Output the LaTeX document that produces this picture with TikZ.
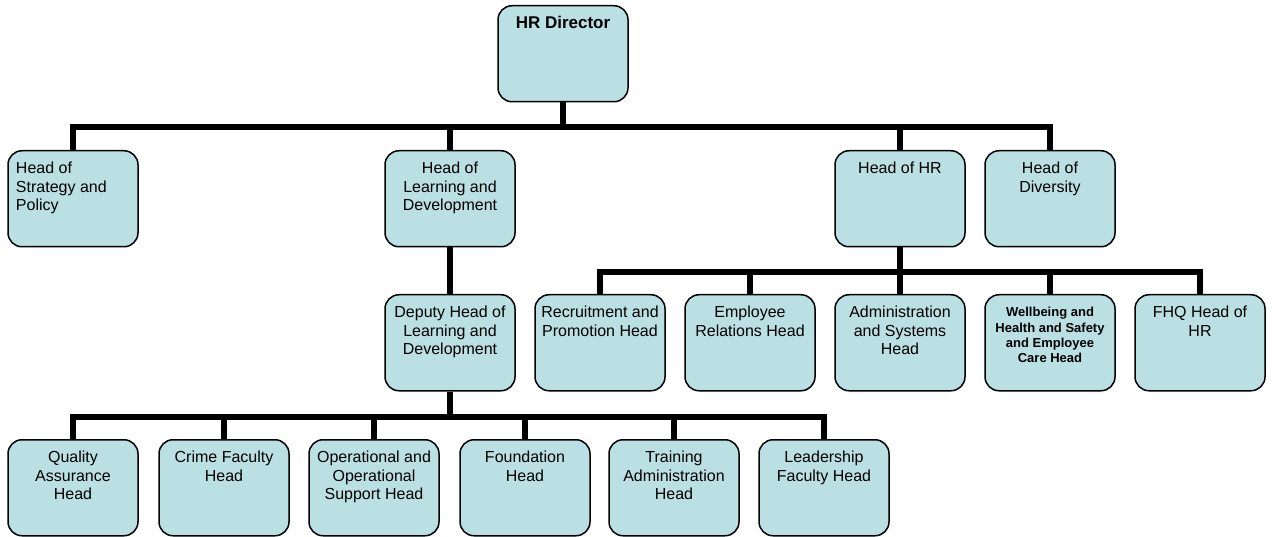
\documentclass[tikz,border=0pt]{standalone}
\usepackage{fontspec}
\setmainfont{Liberation Sans}
\definecolor{boxfill}{RGB}{187,224,227}
\newcommand{\bt}[1]{\parbox[b][96pt][t]{124pt}{\centering\rule{0pt}{23pt}#1\par}}
\newcommand{\btl}[1]{\parbox[b][96pt][t]{114pt}{\raggedright\rule{0pt}{23pt}#1\par}}
\newcommand{\btb}[1]{\parbox[b][96pt][t]{124pt}{\centering\fontsize{13}{15.3}\selectfont\bfseries\rule{0pt}{22pt}#1\par}}
\begin{document}
\begin{tikzpicture}[x=1pt,y=-1pt,
  orgbox/.style={draw=black, line width=1.5pt, fill=boxfill, rounded corners=14pt,
    minimum width=130pt, minimum height=96pt, inner sep=0pt, anchor=north,
    font=\fontsize{16}{18.5}\selectfont},
  link/.style={line width=5.5pt}]
\useasboundingbox (0,0) rectangle (1277,537);
% level 0
\node[orgbox] (dir) at (563,5) {\parbox[b][96pt][t]{124pt}{\centering\fontsize{17}{20}\selectfont\bfseries\rule{0pt}{23pt}HR Director\par}};
% level 1
\node[orgbox] (strat) at (73,150) {\btl{Head of\\Strategy and\\Policy}};
\node[orgbox] (ld) at (450,150) {\bt{Head of\\Learning and\\Development}};
\node[orgbox] (hr) at (900,150) {\bt{Head of HR}};
\node[orgbox] (div) at (1050,150) {\bt{Head of\\Diversity}};
% level 2
\node[orgbox] (dep) at (450,294) {\bt{Deputy Head of\\Learning and\\Development}};
\node[orgbox] (rec) at (600,294) {\bt{Recruitment and\\Promotion Head}};
\node[orgbox] (emp) at (750,294) {\bt{Employee\\Relations Head}};
\node[orgbox] (adm) at (900,294) {\bt{Administration\\and Systems\\Head}};
\node[orgbox] (well) at (1050,294) {\btb{Wellbeing and\\Health and Safety\\and Employee\\Care Head}};
\node[orgbox] (fhq) at (1200,294) {\bt{FHQ Head of\\HR}};
% level 3
\node[orgbox] (qa) at (73,439) {\bt{Quality\\Assurance\\Head}};
\node[orgbox] (crime) at (224,439) {\bt{Crime Faculty\\Head}};
\node[orgbox] (ops) at (374,439) {\bt{Operational and\\Operational\\Support Head}};
\node[orgbox] (found) at (525,439) {\bt{Foundation\\Head}};
\node[orgbox] (train) at (674,439) {\bt{Training\\Administration\\Head}};
\node[orgbox] (lead) at (824,439) {\bt{Leadership\\Faculty Head}};
% buses
\coordinate (bus1) at (0,127);
\coordinate (bus2) at (0,272);
\coordinate (bus3) at (0,417);
% connectors
\foreach \c in {strat,ld,hr,div}
  \draw[link] (dir.south) -- (dir.south |- bus1) -| (\c.north);
\draw[link] (ld.south) -- (dep.north);
\foreach \c in {rec,emp,adm,well,fhq}
  \draw[link] (hr.south) -- (hr.south |- bus2) -| (\c.north);
\foreach \c in {qa,crime,ops,found,train,lead}
  \draw[link] (dep.south) -- (dep.south |- bus3) -| (\c.north);
\end{tikzpicture}
\end{document}
